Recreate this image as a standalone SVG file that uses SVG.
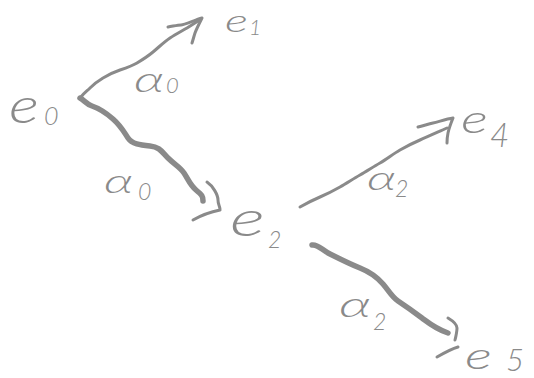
<svg xmlns="http://www.w3.org/2000/svg" width="534" height="378" viewBox="0 0 534 378">
<style>
.t{font-family:"Lato","Liberation Sans","DejaVu Sans",sans-serif;font-style:italic;font-weight:300;fill:#8a8a8a}
.s{fill:none;stroke:#8a8a8a;stroke-width:3;stroke-linecap:round;stroke-linejoin:round}
.w{fill:none;stroke:#8a8a8a;stroke-width:5.5;stroke-linecap:round;stroke-linejoin:round}
</style>
<rect width="534" height="378" fill="#fff"/>
<g id="connectors">
  <path class="s" d="M80,98 C84,93 87,91 90,88 S98,81 103,78 S114,72 120,70 S132,66 137,63 S147,57 153,52 S164,42 170,38 S182,31 187,28 S196,22 200,20"/>
  <path class="s" d="M168,27 C174,26 178,25 181,25 S195,20 202,18 C199,24 196,30 195,33 S193,40 192,43"/>
  <path class="w" d="M80,98 C84,100 86,104 92,106 S105,112 113,119 S124,132 128,138 S140,145 150,146 S162,152 168,158 S180,167 184,173 S190,185 196,190 S203,196 203,201"/>
  <path class="s" d="M207,182 C213,186 218,195 218,200 S220,206 220,210 M193,220 C200,216 210,212 220,210"/>
  <path class="s" d="M300,207 C307,203 313,200 320,197 S333,191 340,187 S353,179 360,175 S373,167 380,163 S393,154 400,150 S413,143 420,140 S438,132 447,128"/>
  <path class="s" d="M418,127 C423,126 428,124 433,123 S446,119 453,118 C451,123 449,128 448,133 S447,140 447,143"/>
  <path class="w" d="M312,245 C318,244 322,250 330,254 S350,264 360,268 S377,277 383,284 S392,297 398,301 S414,312 422,318 S436,329 448,333"/>
  <path class="s" d="M448,318 C453,321 457,324 457,328 S456,336 455,340 M437,357 C444,353 451,349 458,347"/>
  <text class="t" font-size="36" x="134" y="92" textLength="30" lengthAdjust="spacingAndGlyphs">α</text><text class="t" font-size="22" x="166" y="93">0</text>
  <text class="t" font-size="34" x="104" y="193" textLength="29" lengthAdjust="spacingAndGlyphs">α</text><text class="t" font-size="23" x="138" y="200">0</text>
  <text class="t" font-size="34" x="367" y="190" textLength="29" lengthAdjust="spacingAndGlyphs">α</text><text class="t" font-size="23" x="395" y="197">2</text>
  <text class="t" font-size="36" x="339" y="317" textLength="32" lengthAdjust="spacingAndGlyphs">α</text><text class="t" font-size="23" x="373" y="330">2</text>
</g>
<g id="e0"><text class="t" font-size="50" x="9" y="123" textLength="30" lengthAdjust="spacingAndGlyphs">e</text><text class="t" font-size="25" x="44" y="125">0</text></g>
<g id="e1"><text class="t" font-size="31" x="225" y="32" textLength="23" lengthAdjust="spacingAndGlyphs">e</text><text class="t" font-size="21" x="249" y="35">1</text></g>
<g id="e2"><text class="t" font-size="50" x="230" y="236" textLength="35" lengthAdjust="spacingAndGlyphs">e</text><text class="t" font-size="23" x="268" y="248">2</text></g>
<g id="e4"><text class="t" font-size="40" x="461" y="133" textLength="27" lengthAdjust="spacingAndGlyphs">e</text><text class="t" font-size="33" x="490" y="147">4</text></g>
<g id="e5"><text class="t" font-size="38" x="465" y="369" textLength="27" lengthAdjust="spacingAndGlyphs">e</text><text class="t" font-size="31" x="506" y="371">5</text></g>
</svg>
